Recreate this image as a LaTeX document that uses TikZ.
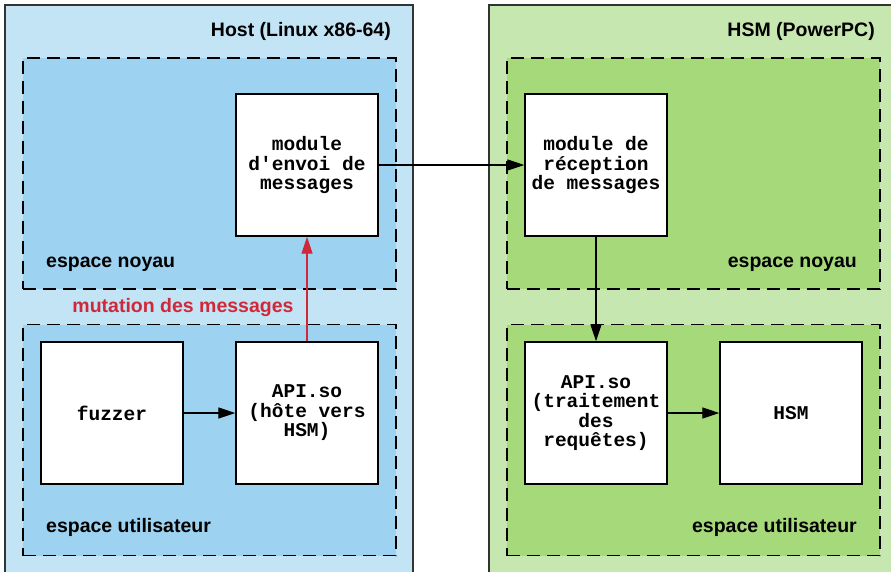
\documentclass[tikz,border=0pt]{standalone}
\usepackage{fontspec}
\setmainfont{Liberation Sans}
\setmonofont{Liberation Mono}
\usetikzlibrary{arrows.meta}
\definecolor{hostbg}{RGB}{194,228,245}
\definecolor{hostzone}{RGB}{157,210,240}
\definecolor{hsmbg}{RGB}{199,231,176}
\definecolor{hsmzone}{RGB}{166,217,122}
\definecolor{mutred}{RGB}{208,40,56}
\tikzset{
  machine/.style={draw=black!80, line width=1.3pt},
  zone/.style={draw, dash pattern=on 13pt off 7pt, line width=1.3pt,
    minimum width=373, minimum height=231},
  box/.style={draw, fill=white, line width=1.4pt, minimum width=142,
    minimum height=142, align=center, inner sep=0pt,
    font=\ttfamily\bfseries\fontsize{19.5}{19.5}\selectfont},
  lbl/.style={font=\bfseries\fontsize{19.5}{19.5}\selectfont, inner sep=0pt},
  flow/.style={-{Triangle[length=17pt,width=11pt]}, line width=1.3pt},
}
\begin{document}
\begin{tikzpicture}[x=1pt,y=-1pt]
\useasboundingbox (0,0) rectangle (891,571);
\clip (0,0) rectangle (891,571);
% the two machines
\filldraw[machine, fill=hostbg] (5,5) rectangle (413,590);
\filldraw[machine, fill=hsmbg] (489,5) rectangle (900,590);
\node[lbl, anchor=base east] (hostlbl) at (391,36) {Host (Linux x86-64)};
\node[lbl, anchor=base east] (hsmlbl) at (875,36) {HSM (PowerPC)};
% kernel / user spaces
\node[zone, fill=hostzone] (hkern) at (209.5,173.5) {};
\node[zone, fill=hostzone] (huser) at (209.5,440) {};
\node[zone, fill=hsmzone] (skern) at (693.5,173.5) {};
\node[zone, fill=hsmzone] (suser) at (693.5,440) {};
\node[lbl, anchor=base west] (hkernlbl) at (46,267) {espace noyau};
\node[lbl, anchor=base west] (huserlbl) at (46,532) {espace utilisateur};
\node[lbl, anchor=base east] (skernlbl) at (857,267) {espace noyau};
\node[lbl, anchor=base east] (suserlbl) at (857,532) {espace utilisateur};
% components
\node[box] (envoi) at (307,165) {module\\d'envoi de\\messages};
\node[box] (fuzzer) at (112,413) {fuzzer};
\node[box] (apih) at (307,413) {API.so\\(hôte vers\\HSM)};
\node[box] (recep) at (596,165) {module de\\réception\\de messages};
\node[box] (apis) at (596,413) {API.so\\(traitement\\des\\requêtes)};
\node[box] (hsm) at (791,413) {HSM};
% flows
\draw[flow] (envoi) -- (recep);
\draw[flow] (recep) -- (apis);
\draw[flow] (fuzzer) -- (apih);
\draw[flow] (apis) -- (hsm);
\draw[flow, draw=mutred, line width=1.1pt] (apih) -- (envoi);
\node[lbl, text=mutred, anchor=base] (mutlbl) at (183,312) {mutation des messages};
\end{tikzpicture}
\end{document}
